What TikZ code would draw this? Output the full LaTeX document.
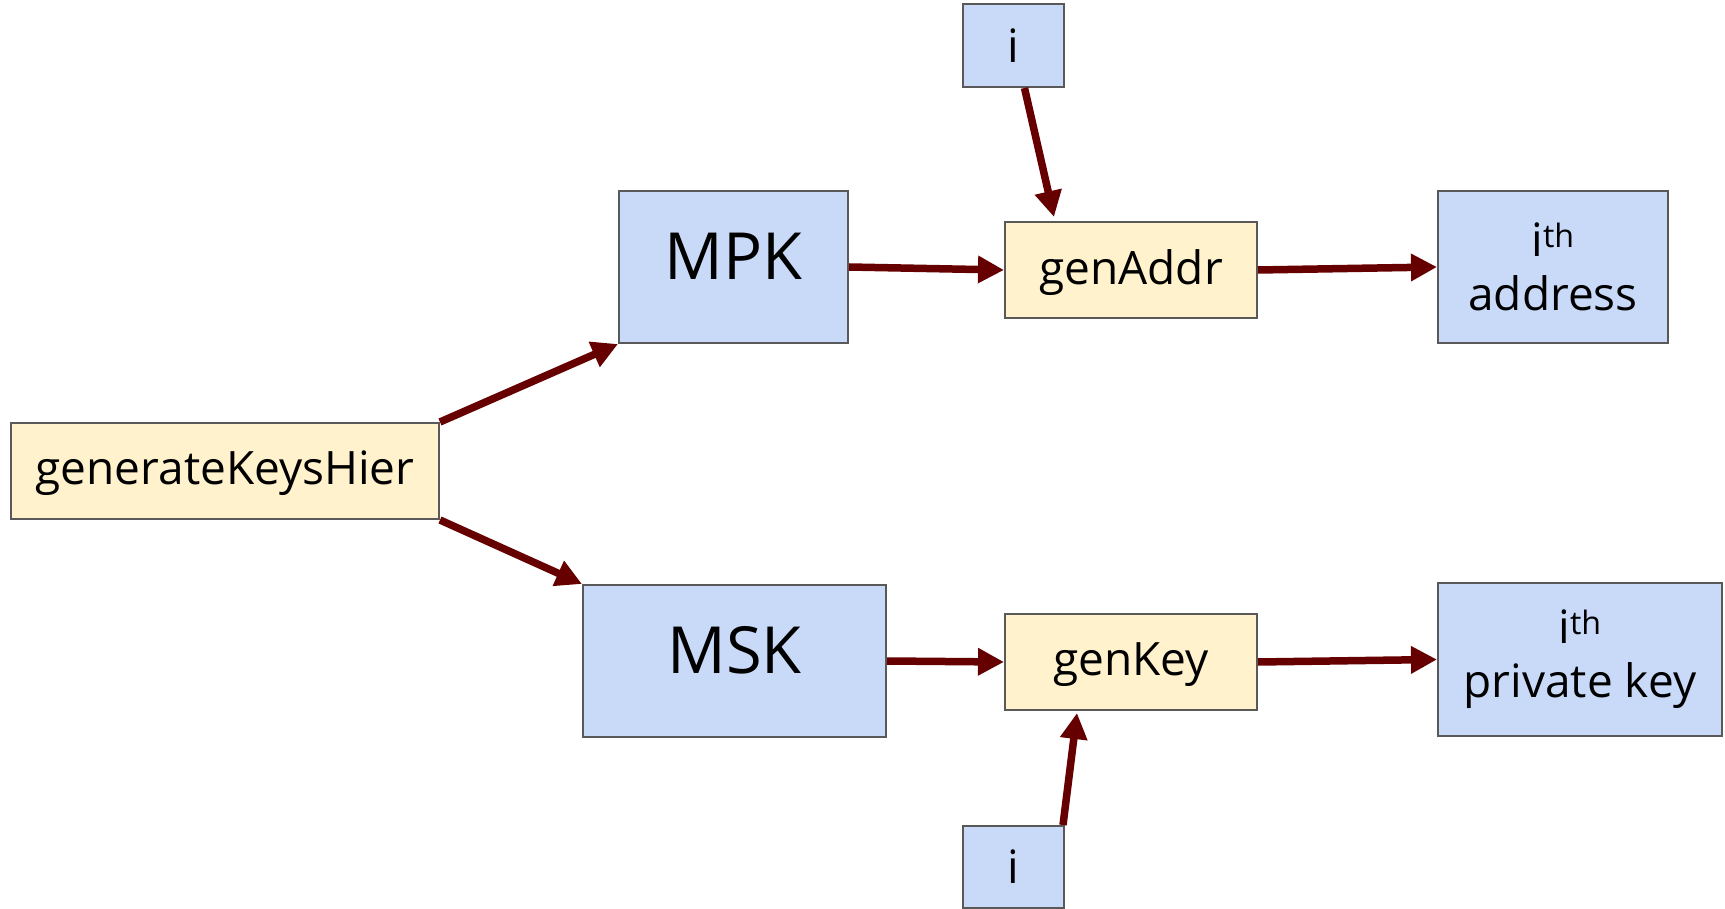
\documentclass[tikz,border=0pt]{standalone}
\usepackage{fontspec}
\setmainfont{Open Sans}
\usetikzlibrary{arrows.meta,calc}
\definecolor{boxblue}{HTML}{C9DAF8}
\definecolor{boxyellow}{HTML}{FFF2CC}
\definecolor{edgegray}{HTML}{595959}
\definecolor{arrowred}{HTML}{660000}
\tikzset{
  box/.style={draw=edgegray, line width=2pt, inner sep=0pt, align=center, font=\fontsize{46}{54}\selectfont},
  bluebox/.style={box, fill=boxblue},
  yellowbox/.style={box, fill=boxyellow, text depth=6pt},
  bigtext/.style={font=\fontsize{65}{72}\selectfont},
  conn/.style={draw=arrowred, line width=7.5pt, -{Triangle[length=26pt,width=26pt]}},
}
\begin{document}
\begin{tikzpicture}[x=1pt,y=-1pt]
\useasboundingbox (0,0) rectangle (1725,909);
\node[yellowbox, minimum width=428pt, minimum height=96pt] (gen) at (225,471) {generateKeysHier};
\node[bluebox, minimum width=229pt, minimum height=152pt] (mpk) at (733.5,267) {};
\node[bigtext] (mpkt) at (733.5,256) {MPK};
\node[yellowbox, minimum width=252pt, minimum height=96pt] (genaddr) at (1131,270) {genAddr};
\node[bluebox, minimum width=230pt, minimum height=152pt] (addr) at (1553,267) {i\textsuperscript{th}\\address};
\node[bluebox, minimum width=101pt, minimum height=83pt] (itop) at (1013.5,45.5) {i};
\node[bluebox, minimum width=303pt, minimum height=152pt] (msk) at (734.5,661) {};
\node[bigtext] (mskt) at (734.5,650) {MSK};
\node[yellowbox, minimum width=252pt, minimum height=96pt] (genkey) at (1131,662) {genKey};
\node[bluebox, minimum width=284pt, minimum height=153pt] (pk) at (1580,659.5) {i\textsuperscript{th}\\private key};
\node[bluebox, minimum width=101pt, minimum height=82pt] (ibot) at (1013.5,867) {i};
\draw[conn] (gen.north east) -- (mpk.south west);
\draw[conn] (gen.south east) -- (msk.north west);
\draw[conn] (mpk.east) -- (genaddr.west);
\draw[conn] (genaddr.east) -- (addr.west);
\draw[conn] (msk.east) -- (genkey.west);
\draw[conn] (genkey.east) -- (pk.west);
\draw[conn] ($(itop.south)+(11,0)$) -- ($(genaddr.north west)+(50,-4)$);
\draw[conn] ($(ibot.north east)+(-2,0)$) -- ($(genkey.south west)+(73,2)$);
\end{tikzpicture}
\end{document}
